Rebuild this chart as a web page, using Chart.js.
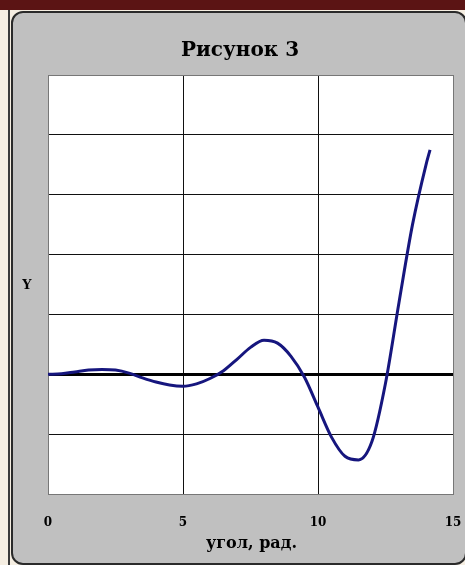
<!DOCTYPE html>
<html>
<head>
<meta charset="utf-8">
<script src="https://cdn.jsdelivr.net/npm/chart.js@4.4.0/dist/chart.umd.min.js"></script>
<style>
  html, body { margin: 0; padding: 0; width: 465px; height: 565px; overflow: hidden; background: #f5eee2; }
  #topbar { position: absolute; left: 0; top: 0; width: 465px; height: 10px; background: #5b1414; }
  #outer { position: absolute; left: 8px; top: 10px; width: 2px; height: 555px; background: #3a3a3a; }
  #panel { position: absolute; left: 11px; top: 11px; width: 452px; height: 550px; background: #c0c0c0;
           border: 2px solid #2a2a2a; border-radius: 12px; }
  #wrap { position: absolute; left: 0; top: 0; width: 465px; height: 565px; }
</style>
</head>
<body>
<div id="topbar"></div>
<div id="outer"></div>
<div id="panel"></div>
<div id="wrap"><canvas id="c" width="465" height="565"></canvas></div>
<script>
const titleText = "Рисунок 3";
const xAxisTitle = "угол, рад.";
const yAxisTitle = "Y";
const xValues = [0, 0.5, 1, 1.5, 2, 2.5, 3, 3.5, 4, 4.5, 5, 5.5, 6, 6.5, 7, 7.5, 8, 8.5, 9, 9.5, 10, 10.5, 11, 11.5, 12, 12.5, 13, 13.5, 14, 14.15];
const yValues = [0, 0.01, 0.04, 0.07, 0.08, 0.07, 0.02, -0.06, -0.13, -0.18, -0.2, -0.16, -0.07, 0.06, 0.25, 0.45, 0.57, 0.52, 0.3, -0.05, -0.55, -1.05, -1.37, -1.43, -1.12, -0.15, 1.2, 2.5, 3.5, 3.75];
const xTicks = [0, 5, 10, 15];
const yGridValues = [-2, -1, 0, 1, 2, 3, 4, 5];

const points = xValues.map((x, i) => ({ x: x, y: yValues[i] }));
const FONT = '"DejaVu Serif", serif';

const decor = {
  id: 'decor',
  beforeDraw(chart) {
    const { ctx, chartArea: a } = chart;
    ctx.save();
    ctx.fillStyle = '#ffffff';
    ctx.fillRect(a.left, a.top, a.right - a.left, a.bottom - a.top);
    ctx.restore();
  },
  afterDraw(chart) {
    const { ctx, chartArea: a } = chart;
    const cx = (a.left + a.right) / 2;
    ctx.save();
    ctx.fillStyle = '#000';
    ctx.textAlign = 'center';
    ctx.textBaseline = 'alphabetic';
    ctx.font = 'bold 20px ' + FONT;
    ctx.fillText(titleText, 240, 56);
    ctx.font = 'bold 16px ' + FONT;
    ctx.fillText(xAxisTitle, cx + 1, 548);
    ctx.font = 'bold 13px ' + FONT;
    ctx.textBaseline = 'middle';
    ctx.fillText(yAxisTitle, 27, (a.top + a.bottom) / 2 + 1);
    ctx.restore();
  }
};

new Chart(document.getElementById('c'), {
  type: 'scatter',
  data: {
    datasets: [{
      data: points,
      showLine: true,
      borderColor: '#16167e',
      borderWidth: 3,
      pointRadius: 0,
      tension: 0.4,
      cubicInterpolationMode: 'monotone',
      fill: false
    }]
  },
  options: {
    responsive: false,
    animation: false,
    layout: { padding: { left: 0, right: 12, top: 75, bottom: 0 } },
    plugins: {
      legend: { display: false },
      tooltip: { enabled: false },
      title: { display: false }
    },
    scales: {
      x: {
        type: 'linear',
        min: 0, max: 15,
        afterBuildTicks(scale) { scale.ticks = xTicks.map(v => ({ value: v })); },
        afterFit(scale) { scale.height = 71; },
        ticks: {
          color: '#000',
          font: { family: FONT, size: 12, weight: 'bold' },
          padding: 0,
          maxRotation: 0
        },
        grid: {
          drawTicks: true,
          tickLength: 22,
          tickColor: 'rgba(0,0,0,0)',
          color: ctx => (ctx.tick && (ctx.tick.value === 0 || ctx.tick.value === 15)) ? '#777' : '#111',
          lineWidth: 1
        },
        border: { display: true, color: '#777', width: 1 },
        title: { display: false }
      },
      y: {
        type: 'linear',
        min: -2, max: 5,
        afterBuildTicks(scale) { scale.ticks = yGridValues.map(v => ({ value: v })); },
        afterFit(scale) { scale.width = 48; },
        ticks: { display: false },
        grid: {
          drawTicks: false,
          color: ctx => (ctx.tick && ctx.tick.value === 0) ? '#000' : ((ctx.tick && (ctx.tick.value === -2 || ctx.tick.value === 5)) ? '#777' : '#111'),
          lineWidth: ctx => (ctx.tick && ctx.tick.value === 0) ? 3 : 1
        },
        border: { display: true, color: '#777', width: 1 }
      }
    }
  },
  plugins: [decor]
});
</script>
</body>
</html>
